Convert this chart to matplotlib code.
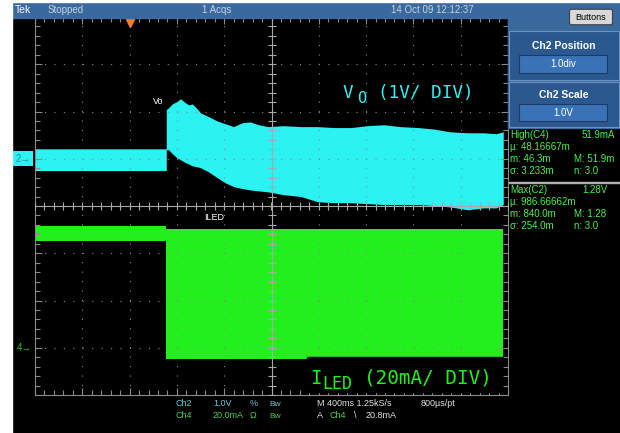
import matplotlib
matplotlib.use('Agg')
import matplotlib.pyplot as plt
from matplotlib.patches import Rectangle, FancyBboxPatch
from matplotlib.transforms import blended_transform_factory
import numpy as np

W, H = 620, 433

# time base: 400 ms/div, 10 div, t = 0 at trigger marker
T_LEFT, T_RIGHT = -0.8, 3.2
T_DIV = 0.4

# Ch2 = Vo, 1 V/div, ground marker at +1 div
CH2_SCALE = 1.0
CH2_OFFSET = 1.0
vo_t = [-0.8, 0.31, 0.31, 0.33, 0.36, 0.40, 0.43, 0.47, 0.50, 0.53, 0.57, 0.60,
        0.67, 0.74, 0.81, 0.88, 0.95, 1.02, 1.09, 1.17, 1.30, 1.45, 1.59, 1.73,
        1.87, 2.01, 2.15, 2.29, 2.44, 2.57, 2.71, 2.86, 2.99, 3.10, 3.16]
vo_hi = [0.21, 0.21, 1.04, 1.08, 1.16, 1.21, 1.27, 1.19, 1.14, 1.16, 1.06, 0.97,
         0.89, 0.80, 0.74, 0.68, 0.76, 0.78, 0.72, 0.68, 0.70, 0.68, 0.68, 0.66,
         0.66, 0.70, 0.72, 0.68, 0.66, 0.63, 0.57, 0.55, 0.55, 0.53, 0.57]
vo_lo = [-0.25, -0.25, 0.19, 0.19, 0.11, 0.02, -0.02, -0.08, -0.11, -0.15, -0.17, -0.19,
         -0.28, -0.40, -0.51, -0.59, -0.63, -0.66, -0.68, -0.70, -0.76, -0.80, -0.91, -0.93,
         -0.93, -0.95, -0.97, -0.97, -0.97, -0.99, -1.02, -1.08, -1.04, -1.04, -0.97]

# Ch4 = ILED, 20 mA/div, ground marker at -3 div
CH4_SCALE = 20.0
CH4_OFFSET = -3.0
iled_t = [-0.8, 0.31, 0.31, 3.155]
iled_hi = [51.6, 51.6, 50.4, 50.4]
iled_lo = [45.3, 45.3, -4.7, -4.7]

meas_c4 = [('High(C4)', '51.9mA'), ('µ: 48.16667m', ''), ('m: 46.3m', 'M: 51.9m'), ('σ: 3.233m', 'n: 3.0')]
meas_c2 = [('Max(C2)', '1.28V'), ('µ: 986.66662m', ''), ('m: 840.0m', 'M: 1.28'), ('σ: 254.0m', 'n: 3.0')]

CYAN = '#2cf2f2'
GREEN = '#22f01c'
GRID = '#8a8a8a'
BLUE = '#3a699e'

plt.rcParams['font.family'] = ['Liberation Sans', 'DejaVu Sans']


def fx(x):
    return x / W


def fy(y):
    return 1 - y / H


def px_rect(fig, x0, y0, x1, y1, **kw):
    r = Rectangle((fx(x0), fy(y1)), (x1 - x0) / W, (y1 - y0) / H,
                  transform=fig.transFigure, **kw)
    fig.add_artist(r)
    return r


def px_text(fig, x, y, s, **kw):
    kw.setdefault('va', 'center')
    return fig.text(fx(x), fy(y), s, **kw)


fig = plt.figure(figsize=(6.2, 4.33), dpi=100, facecolor='black')

# ---- screen frame / chrome ----
px_rect(fig, 0, 0, 12, H, color='white', zorder=5)
px_rect(fig, 0, 0, W, 2, color='white', zorder=5)
px_rect(fig, 12, 2, W, 18, color=BLUE, zorder=1)
px_rect(fig, 508, 18, W, 128, color=BLUE, zorder=1)
for y0, y1 in [(31, 80), (82, 127)]:
    px_rect(fig, 509, y0, 619, y1, facecolor='#2c5890', edgecolor='#6b94c4', lw=0.8, zorder=2)
for y0, y1 in [(55, 73), (104, 121)]:
    px_rect(fig, 519, y0, 607, y1, facecolor='#3a72b8', edgecolor='#1c3a66', lw=0.8, zorder=3)

btn = FancyBboxPatch((fx(572), fy(23)), 38 / W, 12 / H, boxstyle='round,pad=0.004',
                     transform=fig.transFigure, facecolor='#d8d8d8', edgecolor='#404040',
                     lw=0.8, zorder=3)
fig.add_artist(btn)
px_text(fig, 591, 17, 'Buttons', ha='center', fontsize=6.5, color='black', zorder=4)

px_text(fig, 15, 10, 'Tek', fontsize=7.5, color='white', zorder=4)
px_text(fig, 48, 10, 'Stopped', fontsize=7, color='#c8d2e2', zorder=4)
px_text(fig, 202, 10, '1 Acqs', fontsize=7, color='#c8d2e2', zorder=4)
px_text(fig, 391, 10, '14 Oct 09 12:12:37', fontsize=7, color='#c8d2e2', zorder=4)

px_text(fig, 564, 46, 'Ch2 Position', ha='center', fontsize=7.5, fontweight='bold', color='white', zorder=4)
px_text(fig, 563, 64, '1.0div', ha='center', fontsize=7, color='white', zorder=4)
px_text(fig, 564, 95, 'Ch2 Scale', ha='center', fontsize=7.5, fontweight='bold', color='white', zorder=4)
px_text(fig, 563, 113, '1.0V', ha='center', fontsize=7, color='white', zorder=4)

# measurements
MEAS = '#4cee4c'
for rows, y0 in [(meas_c4, 135), (meas_c2, 190)]:
    for i, (a, b) in enumerate(rows):
        px_text(fig, 510, y0 + 12 * i, a, fontsize=7, color=MEAS, zorder=4)
        if b:
            px_text(fig, 574 if i else 582, y0 + 12 * i, b, fontsize=7, color=MEAS, zorder=4)
px_rect(fig, 509, 182, W, 183, color='#b0b0b0', zorder=4)

# ---- graticule axes ----
ax = fig.add_axes([fx(35), fy(395), 473 / W, 378 / H])
ax.set_facecolor('black')
ax.set_xlim(T_LEFT, T_RIGHT)
ax.set_ylim(-4, 4)

ax.fill_between(vo_t, CH2_OFFSET + np.array(vo_hi) / CH2_SCALE,
                CH2_OFFSET + np.array(vo_lo) / CH2_SCALE,
                color=CYAN, lw=0, zorder=1)
ax.fill_between(iled_t, CH4_OFFSET + np.array(iled_hi) / CH4_SCALE,
                CH4_OFFSET + np.array(iled_lo) / CH4_SCALE,
                color=GREEN, lw=0, zorder=1)

xmaj = np.arange(T_LEFT, T_RIGHT + 1e-6, T_DIV)
xmin = np.arange(T_LEFT, T_RIGHT + 1e-6, T_DIV / 5)
ymaj = np.arange(-4, 4.001, 1)
ymin = np.arange(-4, 4.001, 0.2)
ax.set_xticks(xmaj)
ax.set_xticks(xmin, minor=True)
ax.set_yticks(ymaj)
ax.set_yticks(ymin, minor=True)
ax.tick_params(which='both', direction='in', top=True, right=True, colors=GRID,
               labelbottom=False, labelleft=False, width=0.8)
ax.tick_params(which='major', length=5)
ax.tick_params(which='minor', length=3.5)
for s in ax.spines.values():
    s.set_color(GRID)
    s.set_linewidth(0.8)
ax.set_axisbelow(False)
ax.grid(True, which='major', color=GRID, linestyle=(0, (1, 7.5)), linewidth=0.8)

xc = (T_LEFT + T_RIGHT) / 2
ax.axhline(0, color='#a8a8a8', lw=0.8, zorder=3)
ax.axvline(xc, color='#a8a8a8', lw=0.8, zorder=3)
ax.plot(xmin, np.zeros_like(xmin), ls='none', marker='|', ms=6, mew=0.8, color='#a8a8a8', zorder=3)
ax.plot(np.full_like(ymin, xc), ymin, ls='none', marker='_', ms=6, mew=0.8, color='#a8a8a8', zorder=3)

# trigger position marker
ax.plot([0], [3.87], marker='v', ms=6, color='#f08030', mec='#f08030', clip_on=False, zorder=4)

# channel ground markers
tr = blended_transform_factory(ax.transAxes, ax.transData)
ax.text(-0.025, CH2_OFFSET, '2→', transform=tr, ha='center', va='center', fontsize=7,
        color='#2a8c9c', bbox=dict(boxstyle='square,pad=0.25', fc=CYAN, ec='none'), clip_on=False)
ax.text(-0.022, CH4_OFFSET, '4→', transform=tr, ha='center', va='center', fontsize=7,
        color='#33c033', clip_on=False)

# trace labels
px_text(fig, 153, 102, 'Vo', fontsize=6.5, color='white', zorder=4)
px_text(fig, 204, 218, 'ILED', fontsize=6.5, color='white', zorder=4)

mono = ['DejaVu Sans Mono']
px_text(fig, 343, 98, 'V', va='baseline', family=mono, fontsize=12.7, color=CYAN, zorder=4)
px_text(fig, 357, 103, 'O', va='baseline', family=mono, fontsize=11, color=CYAN, zorder=4)
px_text(fig, 378, 98, '(1V/ DIV)', va='baseline', family=mono, fontsize=12.7, color=CYAN, zorder=4)

px_rect(fig, 307, 357, 502, 392, color='black', zorder=3)
px_text(fig, 310, 384, 'I', va='baseline', family=mono, fontsize=13.9, color=GREEN, zorder=4)
px_text(fig, 322, 389, 'LED', va='baseline', family=mono, fontsize=12, color=GREEN, zorder=4)
px_text(fig, 364, 384, '(20mA/ DIV)', va='baseline', family=mono, fontsize=13.9, color=GREEN, zorder=4)

# status line
C2C, C4C, WC = '#6ac8d8', '#55cc55', '#e0e0e0'
fs = 6.5
px_text(fig, 176, 404, 'Ch2', fontsize=fs, color=C2C)
px_text(fig, 213, 404, '1.0V', fontsize=fs, color=C2C)
px_text(fig, 250, 404, '%', fontsize=fs, color=C2C)
px_text(fig, 269, 404, 'Bw', fontsize=fs - 0.5, color=C2C)
px_text(fig, 176, 416, 'Ch4', fontsize=fs, color=C4C)
px_text(fig, 213, 416, '20.0mA', fontsize=fs, color=C4C)
px_text(fig, 250, 416, 'Ω', fontsize=fs, color=C4C)
px_text(fig, 269, 416, 'Bw', fontsize=fs - 0.5, color=C4C)
px_text(fig, 317, 404, 'M 400ms 1.25kS/s', fontsize=fs, color=WC)
px_text(fig, 421, 404, '800µs/pt', fontsize=fs, color=WC)
px_text(fig, 317, 416, 'A', fontsize=fs, color=WC)
px_text(fig, 329, 416, 'Ch4', fontsize=fs, color=C4C)
px_text(fig, 354, 416, '\\', fontsize=fs, color=WC)
px_text(fig, 366, 416, '20.8mA', fontsize=fs, color=WC)

fig.savefig('out.png', dpi=100, facecolor='black')
